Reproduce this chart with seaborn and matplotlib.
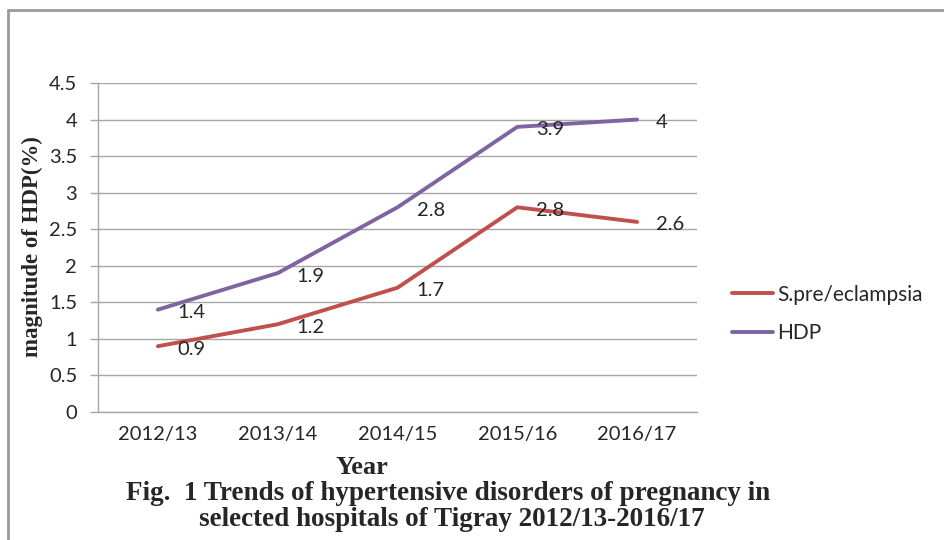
import matplotlib
matplotlib.use("Agg")
import matplotlib.pyplot as plt
import seaborn as sns
import pandas as pd
from matplotlib.lines import Line2D

years = ["2012/13", "2013/14", "2014/15", "2015/16", "2016/17"]
pre_eclampsia = [0.9, 1.2, 1.7, 2.8, 2.6]
hdp = [1.4, 1.9, 2.8, 3.9, 4.0]
series_names = ["S.pre/eclampsia", "HDP"]
y_ticks = [0, 0.5, 1, 1.5, 2, 2.5, 3, 3.5, 4, 4.5]
y_tick_labels = ["0", "0.5", "1", "1.5", "2", "2.5", "3", "3.5", "4", "4.5"]

df = pd.DataFrame({
    "Year": years * 2,
    "value": pre_eclampsia + hdp,
    "series": [series_names[0]] * len(years) + [series_names[1]] * len(years),
})
df["pos"] = df["Year"].map({y: i for i, y in enumerate(years)})

sns.set_theme(style="white")
plt.rcParams["font.family"] = ["Lato", "DejaVu Sans"]

red = "#C0504D"
purple = "#8064A2"
grid_c = "#A6A6A6"
text_c = "#262626"

fig = plt.figure(figsize=(9.45, 5.4), dpi=100)
ax = fig.add_axes([98 / 945, 1 - 412 / 540, (697 - 98) / 945, (412 - 83) / 540])

sns.lineplot(data=df, x="pos", y="value", hue="series",
             palette={series_names[0]: red, series_names[1]: purple},
             linewidth=2.8, legend=False, ax=ax, sort=False)

ax.set_xlim(-0.5, len(years) - 0.5)
ax.set_ylim(0, 4.5)
ax.set_xticks(range(len(years)))
ax.set_xticklabels(years, fontsize=14.5, color=text_c)
ax.set_yticks(y_ticks)
ax.set_yticklabels(y_tick_labels, fontsize=14.5, color=text_c)
ax.yaxis.grid(True, color=grid_c, linewidth=1.0)
ax.set_axisbelow(True)
ax.tick_params(axis="y", length=6, width=1.0, color=grid_c, pad=9, left=True)
ax.tick_params(axis="x", length=0, pad=10)
for side in ["top", "right"]:
    ax.spines[side].set_visible(False)
for side in ["left", "bottom"]:
    ax.spines[side].set_color(grid_c)
    ax.spines[side].set_linewidth(1.0)
ax.set_xlabel("")
ax.set_ylabel("")

# value labels to the right of each point
for vals in (pre_eclampsia, hdp):
    for i, v in enumerate(vals):
        ax.annotate(f"{v:g}", (i, v), xytext=(19, -3), textcoords="offset pixels",
                    ha="left", va="center", fontsize=14.5, color=text_c)

# legend
handles = [Line2D([], [], color=red, linewidth=2.8),
           Line2D([], [], color=purple, linewidth=2.8)]
fig.legend(handles, series_names, loc="center left",
           bbox_to_anchor=(713 / 945, 1 - 314 / 540), frameon=False,
           fontsize=15, handlelength=2.0, handletextpad=0.2, labelspacing=0.9,
           labelcolor=text_c)

serif = ["Liberation Serif", "DejaVu Serif"]
fig.text(32 / 945, 1 - 247 / 540, "magnitude of HDP(%)", rotation=90,
         ha="center", va="center", fontsize=16.5, fontweight="bold", family=serif)
fig.text(362 / 945, 1 - 468 / 540, "Year", ha="center", va="center",
         fontsize=19, fontweight="bold", family=serif)
fig.text(448 / 945, 1 - 494 / 540,
         "Fig.  1 Trends of hypertensive disorders of pregnancy in",
         ha="center", va="center", fontsize=19.5, fontweight="bold", family=serif)
fig.text(452 / 945, 1 - 519 / 540,
         "selected hospitals of Tigray 2012/13-2016/17",
         ha="center", va="center", fontsize=19.5, fontweight="bold", family=serif)

# outer chart frame (top and left edges)
frame_c = "#9A9A9A"
fig.add_artist(Line2D([8 / 945, 1.0], [1 - 10 / 540, 1 - 10 / 540],
                      color=frame_c, linewidth=2.0, transform=fig.transFigure))
fig.add_artist(Line2D([8 / 945, 8 / 945], [0.0, 1 - 10 / 540],
                      color=frame_c, linewidth=2.0, transform=fig.transFigure))

fig.savefig("out.png", dpi=100)
